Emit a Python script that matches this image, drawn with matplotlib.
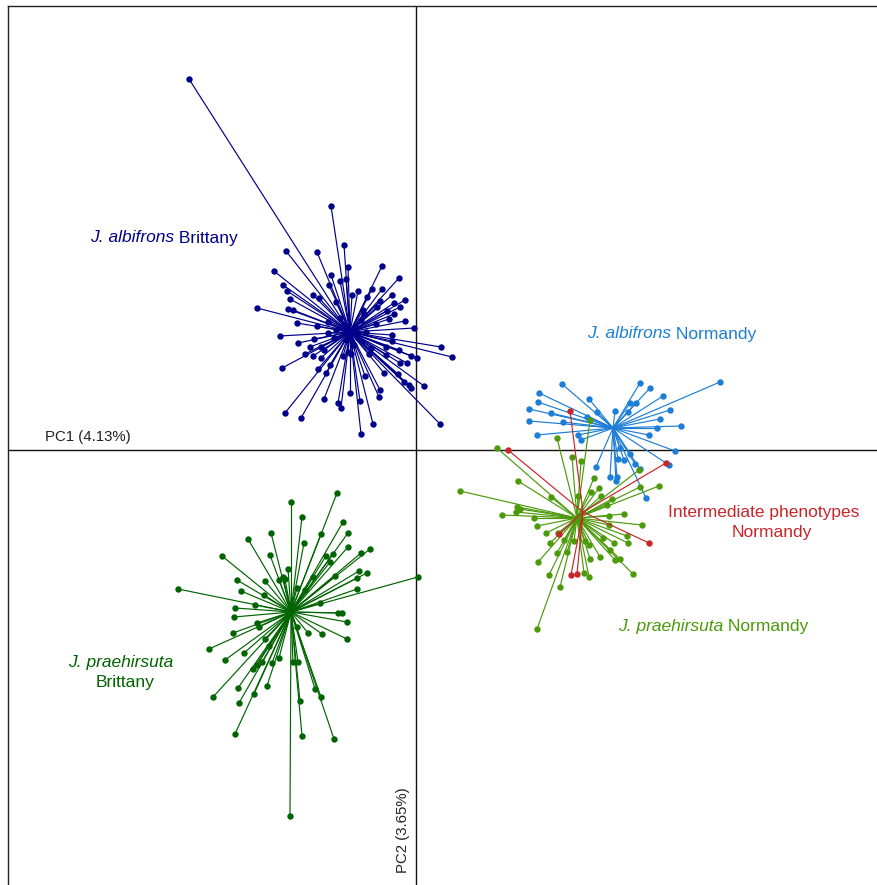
import matplotlib
matplotlib.use("Agg")
import matplotlib.pyplot as plt
import numpy as np

plt.rcParams['font.family'] = ['Liberation Sans', 'DejaVu Sans']

# ---- data: PCA scores (PC1, PC2) per group ----
alb_brit_x = [-2.27, -0.85, -0.72, -1.30, -0.99, -0.68, -0.34, -1.42, -0.85, -0.17, -0.76, -0.70,
              -1.33, -0.87, -0.44, -0.34, -0.58, -1.29, -1.03, -0.24, -0.97, -0.64, -0.49, -1.26,
              -0.11, -0.36, -1.59, -0.80, -0.22, -0.16, -1.28, -1.23, -0.39, -0.29, -0.22, -0.53,
              -1.19, -0.27, -0.11, -0.99, -0.02, -1.36, -0.88, -0.24, -1.18, -1.02, 0.25, -1.06,
              -0.95, -0.30, -0.24, -0.17, 0.36, -1.11, -1.03, -0.95, -0.73, -0.65, -0.47, -0.05,
              0.01, -0.09, -0.16, -0.30, -0.86, -1.34, -0.98, -0.90, -0.51, -0.32, -0.18, -0.12,
              -0.07, -0.05, 0.08, -0.36, -0.37, -0.66, -0.92, -0.78, -0.75, -0.56, -1.31, -1.15,
              -0.43, 0.24, -0.55, -0.72, -0.60, -0.70, -0.58, -0.80, -0.55, -0.76, -0.62, -0.50, -0.82,
              -0.45, -0.88, -0.68, -0.40, -0.92, -0.52]
alb_brit_y = [3.71, 2.44, 2.05, 1.99, 1.98, 1.83, 1.84, 1.79, 1.75, 1.72, 1.69, 1.71,
              1.65, 1.65, 1.61, 1.61, 1.59, 1.59, 1.55, 1.55, 1.52, 1.55, 1.53, 1.51,
              1.50, 1.49, 1.42, 1.48, 1.47, 1.43, 1.41, 1.40, 1.43, 1.39, 1.36, 1.40,
              1.27, 1.31, 1.29, 1.24, 1.22, 1.14, 1.17, 1.15, 1.07, 1.11, 1.03, 1.03,
              1.03, 1.03, 1.09, 1.00, 0.93, 0.96, 0.94, 0.92, 0.94, 0.96, 0.96, 0.94,
              0.92, 0.87, 0.87, 0.95, 0.85, 0.82, 0.81, 0.77, 0.74, 0.77, 0.76, 0.68,
              0.65, 0.62, 0.64, 0.60, 0.53, 0.57, 0.51, 0.47, 0.42, 0.49, 0.37, 0.32,
              0.26, 0.26, 0.16, 1.25, 1.22, 1.10, 1.12, 1.20, 1.30, 1.32, 1.05, 1.18, 1.12,
              1.02, 1.28, 0.98, 1.26, 1.00, 1.36]
alb_brit_centre = (-0.66, 1.18)

alb_norm_x = [1.46, 2.24, 3.04, 2.34, 1.23, 2.47, 1.73, 1.22, 2.14, 2.20, 1.13, 1.81, 1.99,
              2.12, 1.35, 2.54, 1.71, 1.13, 1.47, 2.44, 2.41, 2.65, 1.21, 1.62, 1.65, 2.33,
              2.59, 2.53, 1.80, 1.94, 2.01, 2.00, 2.08, 2.02, 2.14, 2.19, 2.24, 2.30, 2.04]
alb_norm_y = [0.66, 0.67, 0.68, 0.62, 0.57, 0.54, 0.51, 0.48, 0.47, 0.47, 0.41, 0.38, 0.39,
              0.38, 0.37, 0.40, 0.33, 0.29, 0.28, 0.31, 0.22, 0.24, 0.15, 0.15, 0.10, 0.15,
              -0.01, -0.15, -0.17, -0.27, -0.27, -0.31, -0.10, -0.09, -0.04, -0.14, -0.19, -0.48, 0.02]
alb_norm_centre = (1.97, 0.22)

inter_norm_x = [1.54, 0.92, 2.50, 2.33, 1.43, 1.55, 1.61]
inter_norm_y = [0.39, 0.00, -0.13, -0.93, -0.84, -1.25, -1.24]
inter_norm_centre = (1.67, -0.62)

prae_norm_x = [0.81, 1.41, 1.74, 0.44, 1.02, 1.56, 1.65, 1.78, 2.23, 2.24, 2.43, 1.83, 1.75,
               1.35, 1.62, 1.85, 1.96, 1.91, 1.01, 1.04, 0.86, 1.00, 1.18, 2.08, 1.93, 2.26,
               1.21, 1.93, 1.30, 1.42, 2.11, 1.34, 1.48, 1.58, 1.69, 1.87, 1.98, 2.12, 1.41,
               1.51, 1.73, 1.84, 1.22, 1.74, 1.99, 2.04, 2.17, 1.33, 1.68, 1.73, 1.44, 1.21, 1.94]
prae_norm_y = [0.02, 0.12, 0.30, -0.41, -0.31, -0.07, -0.11, -0.28, -0.20, -0.37, -0.36, -0.38, -0.42,
               -0.47, -0.46, -0.46, -0.49, -0.55, -0.57, -0.59, -0.65, -0.62, -0.68, -0.64, -0.66, -0.75,
               -0.76, -0.75, -0.83, -0.83, -0.86, -0.93, -0.90, -0.91, -0.91, -0.88, -0.93, -0.93, -1.03,
               -1.02, -0.95, -1.07, -1.12, -1.09, -1.10, -1.09, -1.24, -1.25, -1.23, -1.27, -1.37, -1.79, -1.00]
prae_norm_centre = (1.61, -0.68)

prae_brit_x = [-0.79, -1.25, -1.14, -0.73, -1.45, -0.95, -0.68, -1.68, -1.12, -0.68, -0.46, -0.55,
               -1.94, -1.46, -0.90, -0.83, -0.86, -1.28, -0.57, -0.49, -1.33, -1.31, -0.81, -1.03,
               -0.59, -1.79, -1.51, -1.37, 0.02, -2.38, -1.75, -1.19, -1.11, -0.59, -1.52, -1.61,
               -1.81, -0.96, -1.82, -0.78, -0.74, -0.69, -1.59, -1.57, -1.83, -1.19, -1.08, -0.94,
               -0.69, -1.51, -2.07, -1.47, -1.72, -1.91, -1.37, -1.44, -1.54, -1.59, -1.63, -1.23,
               -1.18, -1.49, -1.78, -1.62, -1.01, -0.95, -2.03, -1.16, -1.77, -1.81, -1.14, -0.82, -1.26]
prae_brit_y = [-0.43, -0.52, -0.67, -0.72, -0.83, -0.84, -0.83, -0.89, -0.93, -0.97, -0.99, -1.03,
               -1.06, -1.05, -1.06, -1.04, -1.12, -1.19, -1.21, -1.23, -1.27, -1.29, -1.26, -1.27,
               -1.28, -1.30, -1.31, -1.30, -1.27, -1.39, -1.41, -1.38, -1.40, -1.39, -1.45, -1.55,
               -1.58, -1.53, -1.67, -1.63, -1.63, -1.72, -1.73, -1.77, -1.83, -1.77, -1.83, -1.84,
               -1.89, -1.89, -1.99, -1.96, -2.03, -2.10, -2.08, -2.13, -2.12, -2.15, -2.19, -2.12,
               -2.12, -2.36, -2.38, -2.44, -2.39, -2.47, -2.47, -2.51, -2.53, -2.84, -2.86, -2.89, -3.66]
prae_brit_centre = (-1.25, -1.62)

pc1_label = "PC1 (4.13%)"
pc2_label = "PC2 (3.65%)"

groups = [
    (alb_brit_x, alb_brit_y, alb_brit_centre, "#00008B"),
    (prae_brit_x, prae_brit_y, prae_brit_centre, "#006400"),
    (alb_norm_x, alb_norm_y, alb_norm_centre, "#1C7ED6"),
    (prae_norm_x, prae_norm_y, prae_norm_centre, "#4C9A0A"),
    (inter_norm_x, inter_norm_y, inter_norm_centre, "#C8262A"),
]

fig = plt.figure(figsize=(8.78, 8.85), dpi=100)
W, H = 878, 885
ax = fig.add_axes([8 / W, 0, 1 - 8 / W, 1 - 6 / H])
ax.set_xlim(-4.08, 4.62)
ax.set_ylim(-4.35, 4.44)
ax.set_xticks([])
ax.set_yticks([])
for s in ['right', 'bottom']:
    ax.spines[s].set_visible(False)
for s in ['left', 'top']:
    ax.spines[s].set_linewidth(1.0)
    ax.spines[s].set_color('#222222')

ax.axhline(0, color='#111111', lw=1.0, zorder=1)
ax.axvline(0, color='#111111', lw=1.0, zorder=1)

for i, (xs, ys, c, col) in enumerate(groups):
    xs = np.asarray(xs); ys = np.asarray(ys)
    for x, y in zip(xs, ys):
        ax.plot([c[0], x], [c[1], y], color=col, lw=0.85, zorder=2 + i, solid_capstyle='butt')
    ax.plot(xs, ys, 'o', color=col, ms=4.6, mew=0, zorder=2 + i)

fs = 12.5
def two_part(x, y, italic, regular, color):
    t = ax.text(x, y, italic, style='italic', color=color, fontsize=fs, va='center', ha='left')
    ax.annotate(" " + regular, xy=(1, 0.5), xycoords=t, va='center', ha='left',
                color=color, fontsize=fs)

two_part(-3.26, 2.12, "J. albifrons", "Brittany", "#00008B")
two_part(1.71, 1.16, "J. albifrons", "Normandy", "#1C7ED6")
two_part(2.02, -1.76, "J. praehirsuta", "Normandy", "#4C9A0A")
ax.text(3.475, -0.62, "Intermediate phenotypes", color="#C8262A", fontsize=fs, ha='center', va='center')
ax.text(3.56, -0.83, "Normandy", color="#C8262A", fontsize=fs, ha='center', va='center')
ax.text(-2.95, -2.12, "J. praehirsuta", style='italic', color="#006400", fontsize=fs, ha='center', va='center')
ax.text(-2.91, -2.32, "Brittany", color="#006400", fontsize=fs, ha='center', va='center')

ax.text(-3.71, 0.13, pc1_label, fontsize=10.8, color='#222222', ha='left', va='center')
ax.text(-0.13, -3.80, pc2_label, fontsize=10.8, color='#222222', ha='center', va='center', rotation=90)

fig.savefig("out.png", dpi=100)
